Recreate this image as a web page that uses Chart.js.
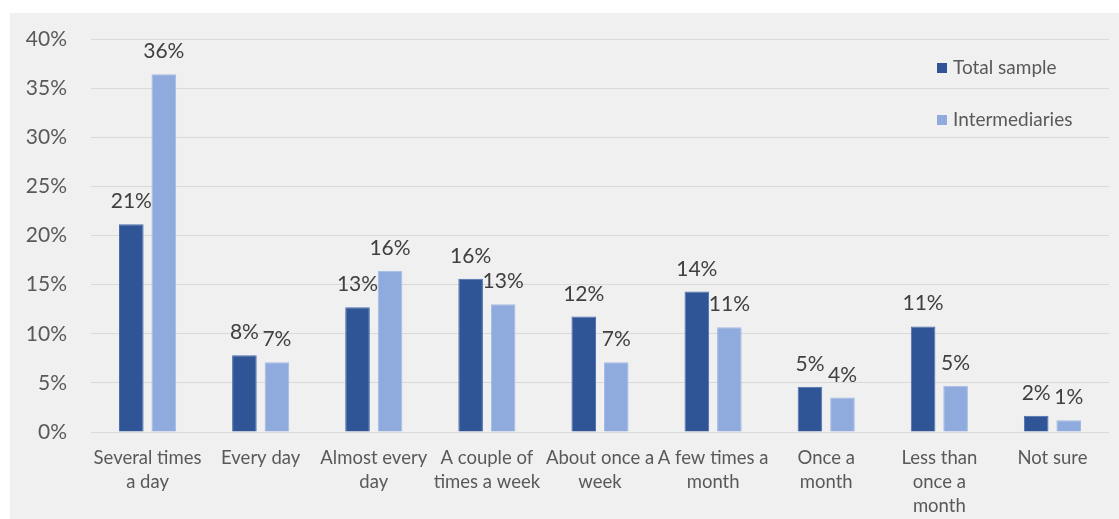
<!DOCTYPE html>
<html>
<head>
<meta charset="utf-8">
<title>Frequency</title>
<script src="https://cdn.jsdelivr.net/npm/chart.js@4"></script>
<style>
  html, body { margin: 0; padding: 0; background: #fff; }
  #frame {
    position: absolute; left: 10px; top: 13px;
    width: 1109px; height: 506px; background: #f0f0f0;
  }
</style>
</head>
<body>
<div id="frame"><canvas id="freq"></canvas></div>
<script>
// categories (already wrapped the way they show under the axis)
const categories = [
  ["Several times", "a day"],
  ["Every day"],
  ["Almost every", "day"],
  ["A couple of", "times a week"],
  ["About once a", "week"],
  ["A few times a", "month"],
  ["Once a", "month"],
  ["Less than", "once a", "month"],
  ["Not sure"],
];

// shares in %
const totalSample = [21.15, 7.8, 12.7, 15.6, 11.75, 14.3, 4.6, 10.75, 1.65];
const intermediaries = [36.4, 7.1, 16.4, 13.0, 7.1, 10.65, 3.5, 4.7, 1.2];

const seriesNames = ["Total sample", "Intermediaries"];
const seriesColors = ["#2f5597", "#8faadc"];

const yMin = 0, yMax = 40, yStep = 5;

(() => {
  const FONT = "Lato, 'Open Sans', sans-serif";

  // value labels over every bar, rounded to whole percent
  const barLabels = {
    id: "barLabels",
    afterDatasetsDraw(chart) {
      const { ctx } = chart;
      ctx.save();
      ctx.font = `21px ${FONT}`;
      ctx.fillStyle = "#404040";
      ctx.textAlign = "center";
      ctx.textBaseline = "alphabetic";
      chart.data.datasets.forEach((ds, i) => {
        chart.getDatasetMeta(i).data.forEach((bar, j) => {
          ctx.fillText(Math.round(ds.data[j]) + "%", bar.x, bar.y - 16);
        });
      });
      ctx.restore();
    },
  };

  // small legend sitting inside the plot, top right
  const insideLegend = {
    id: "insideLegend",
    afterDraw(chart) {
      const { ctx } = chart;
      const x0 = 927, y0 = 55, gap = 52, box = 10;
      ctx.save();
      ctx.font = `19px ${FONT}`;
      ctx.textBaseline = "middle";
      chart.data.datasets.forEach((ds, i) => {
        const y = y0 + i * gap;
        ctx.fillStyle = ds.backgroundColor;
        ctx.fillRect(x0, y - box / 2, box, box);
        ctx.fillStyle = "#595959";
        ctx.fillText(ds.label, x0 + 16, y);
      });
      ctx.restore();
    },
  };

  new Chart(document.getElementById("freq"), {
    type: "bar",
    data: {
      labels: categories,
      datasets: [
        {
          label: seriesNames[0],
          data: totalSample,
          backgroundColor: seriesColors[0],
          borderColor: "#4a6eab",
          borderWidth: 1,
        },
        {
          label: seriesNames[1],
          data: intermediaries,
          backgroundColor: seriesColors[1],
          borderColor: "#a3bae3",
          borderWidth: 1,
        },
      ],
    },
    options: {
      responsive: true,
      maintainAspectRatio: false,
      animation: false,
      categoryPercentage: 0.575,
      barPercentage: 0.757,
      layout: { padding: { top: 0, right: 10, left: 0, bottom: 0 } },
      plugins: {
        legend: { display: false },
        tooltip: { enabled: false },
      },
      scales: {
        x: {
          grid: { display: false, drawTicks: false },
          border: { display: false },
          ticks: {
            color: "#595959",
            font: { family: FONT, size: 18.5, lineHeight: 1.3 },
            padding: 14,
            maxRotation: 0,
            autoSkip: false,
          },
          afterFit(scale) { scale.height = 87; },
        },
        y: {
          min: yMin,
          max: yMax,
          grid: { color: "#d9d9d9", lineWidth: 1, drawTicks: false },
          border: { display: false },
          ticks: {
            stepSize: yStep,
            color: "#595959",
            font: { family: FONT, size: 21 },
            padding: 24,
            callback: (v) => v + "%",
          },
          // fixed gutter on the left, and pin the top of the plot
          afterFit(scale) {
            scale.width = 81;
            scale.paddingTop = 26;
          },
        },
      },
    },
    plugins: [barLabels, insideLegend],
  });
})();
</script>
</body>
</html>
